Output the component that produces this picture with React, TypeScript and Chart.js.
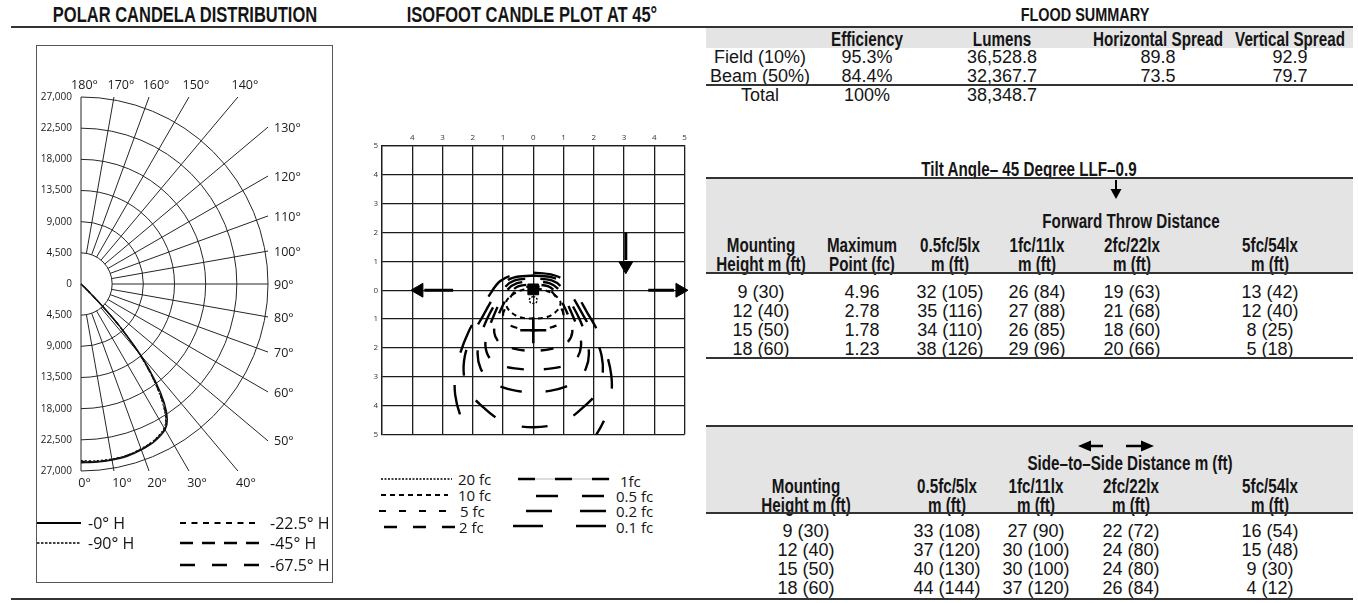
import React, { useEffect, useRef } from 'react';
import { Chart, registerables } from 'chart.js';

Chart.register(...registerables);

const BODY_FONT = '"Liberation Sans", Arial, Helvetica, sans-serif';
const LABEL_FONT = '"Open Sans", "Noto Sans", sans-serif';

// ---------------- Polar candela distribution data ----------------
const polarAngles = [0, 5, 10, 15, 20, 25, 30, 32.5, 35, 37.5, 40, 42.5, 44, 45, 47, 50, 60, 90];
const candela0H = [25800, 25800, 25800, 25750, 25500, 25100, 24300, 23200, 21000, 17600, 13400, 8200, 4600, 2200, 600, 150, 0, 0];
const candela225H = [25600, 25700, 25700, 25650, 25400, 25000, 24100, 22900, 20500, 17000, 13100, 8000, 4400, 2000, 500, 120, 0, 0];
const candela45H = [25700, 25750, 25700, 25600, 25350, 24950, 24150, 22800, 20300, 16900, 12900, 7900, 4300, 1900, 500, 120, 0, 0];
const candela675H = [25750, 25750, 25750, 25650, 25450, 25050, 24200, 23000, 20700, 17300, 13200, 8100, 4500, 2100, 550, 130, 0, 0];
const candela90H = [25500, 25600, 25650, 25600, 25300, 24900, 24000, 22700, 20200, 16800, 12800, 7800, 4400, 2000, 500, 120, 0, 0];
const polarSeriesNames = ['-0° H', '-22.5° H', '-45° H', '-67.5° H', '-90° H'];
const polarSeriesValues = [candela0H, candela225H, candela45H, candela675H, candela90H];
const polarRingValues = [4500, 9000, 13500, 18000, 22500, 27000];
const polarRingLabels = ['4,500', '9,000', '13,500', '18,000', '22,500', '27,000'];
const polarAngleTicks = [0, 10, 20, 30, 40, 50, 60, 70, 80, 90, 100, 110, 120, 130, 140, 150, 160, 170, 180];

// polar styles
const polarDashes = [[], [4, 3], [7, 4], [10, 5], [2, 2]];
const polarWidths = [1.4, 1.1, 1.1, 1.1, 1.1];

// ---------------- Isofootcandle plot data ----------------
const isoColLabels = ['', '4', '3', '2', '1', '0', '1', '2', '3', '4', '5'];
const isoRowLabels = ['5', '4', '3', '2', '1', '0', '1', '2', '3', '4', '5'];
const isoLevels = ['20 fc', '10 fc', '5 fc', '2 fc', '1fc', '0.5 fc', '0.2 fc', '0.1 fc'];

const iso20X = [0, -0.09, -0.13, -0.09, 0, 0.09, 0.13, 0.09, 0];
const iso20Y = [-0.22, -0.25, -0.34, -0.43, -0.46, -0.43, -0.34, -0.25, -0.22];
const iso10X = [0, -0.39, -0.71, -0.9, -0.81, -0.48, 0, 0.48, 0.81, 0.9, 0.71, 0.39, 0];
const iso10Y = [0.07, 0, -0.17, -0.41, -0.68, -0.92, -0.98, -0.92, -0.68, -0.41, -0.17, 0, 0.07];
const iso5X = [0, -0.45, -0.71, -0.87, -1.0, -0.87, -0.48, 0, 0.48, 0.87, 1.0, 0.87, 0.71, 0.45, 0];
const iso5Y = [0.14, 0.07, -0.17, -0.51, -0.85, -1.15, -1.32, -1.39, -1.32, -1.15, -0.85, -0.51, -0.17, 0.07, 0.14];
const iso2X = [0, -0.48, -0.77, -1.0, -1.19, -1.29, -1.1, -0.61, 0, 0.61, 1.1, 1.29, 1.19, 1.0, 0.77, 0.48, 0];
const iso2Y = [0.2, 0.14, -0.1, -0.51, -0.98, -1.46, -1.83, -2.03, -2.1, -2.03, -1.83, -1.46, -0.98, -0.51, -0.1, 0.14, 0.2];
const iso1X = [0, -0.55, -0.84, -1.1, -1.32, -1.52, -1.58, -1.45, -1.13, -0.61, 0, 0.61, 1.13, 1.45, 1.58, 1.52, 1.32, 1.1, 0.84, 0.55, 0];
const iso1Y = [0.31, 0.24, 0.03, -0.41, -0.92, -1.46, -1.93, -2.34, -2.58, -2.71, -2.75, -2.71, -2.58, -2.34, -1.93, -1.46, -0.92, -0.41, 0.03, 0.24, 0.31];
const iso05X = [0, -0.61, -0.94, -1.23, -1.52, -1.74, -1.84, -1.74, -1.45, -1.03, -0.55, 0, 0.55, 1.03, 1.45, 1.74, 1.84, 1.74, 1.52, 1.23, 0.94, 0.61, 0];
const iso05Y = [0.41, 0.34, 0.1, -0.41, -0.98, -1.59, -2.2, -2.71, -3.12, -3.36, -3.49, -3.53, -3.49, -3.36, -3.12, -2.71, -2.2, -1.59, -0.98, -0.41, 0.1, 0.34, 0.41];
const iso02X = [0, -0.65, -1.03, -1.35, -1.68, -2.03, -2.26, -2.29, -2.1, -1.68, -1.19, -0.61, 0, 0.61, 1.19, 1.68, 2.1, 2.29, 2.26, 2.03, 1.68, 1.35, 1.03, 0.65, 0];
const iso02Y = [0.51, 0.44, 0.2, -0.31, -0.92, -1.59, -2.27, -2.95, -3.56, -4.03, -4.44, -4.68, -4.75, -4.68, -4.44, -4.03, -3.56, -2.95, -2.27, -1.59, -0.92, -0.31, 0.2, 0.44, 0.51];
const iso01X = [0, -0.61, -1.1, -1.45, -1.77, -2.13, -2.42, -2.58, -2.58, -2.42, -2.1, -1.68, 0, 1.68, 2.1, 2.42, 2.58, 2.58, 2.42, 2.13, 1.77, 1.45, 1.1, 0.61, 0];
const iso01Y = [0.61, 0.54, 0.31, -0.17, -0.75, -1.42, -2.2, -2.95, -3.63, -4.31, -4.98, -5.59, -6.17, -5.59, -4.98, -4.31, -3.63, -2.95, -2.2, -1.42, -0.75, -0.17, 0.31, 0.54, 0.61];
const isoContourX = [iso20X, iso10X, iso5X, iso2X, iso1X, iso05X, iso02X, iso01X];
const isoContourY = [iso20Y, iso10Y, iso5Y, iso2Y, iso1Y, iso05Y, iso02Y, iso01Y];

// markers & arrows on the isofootcandle grid
const isoFixtureX = [0];
const isoFixtureY = [0.03];
const isoMaxPointX = [0];
const isoMaxPointY = [-1.39];
const isoArrowLeftX = [-2.65, -3.6];
const isoArrowLeftY = [0, 0];
const isoArrowRightX = [3.8, 4.65];
const isoArrowRightY = [0, 0];
const isoArrowDownX = [3.06, 3.06];
const isoArrowDownY = [2.0, 1.05];
const isoArrowHeadX = [-3.78, 4.85, 3.06];
const isoArrowHeadY = [0, 0, 0.85];
const isoArrowHeadRot = [-90, 90, 180];

// iso styles
const isoDashes = [[2, 1.5], [5, 4], [7, 13], [13, 16], [17, 20], [22, 24], [26, 28], [30, 33]];
const isoDashOffsets = [0, 0, 0, 22, 26, 38, 0, 39];
const isoWidths = [1.4, 2, 2.2, 2.4, 2.4, 2.4, 2.4, 2.4];

// ---------------- Tables ----------------
const floodRowNames = ['Field (10%)', 'Beam (50%)', 'Total'];
const floodEfficiency = ['95.3%', '84.4%', '100%'];
const floodLumens = ['36,528.8', '32,367.7', '38,348.7'];
const floodHorizontal = ['89.8', '73.5', ''];
const floodVertical = ['92.9', '79.7', ''];
const floodHeaders = ['', 'Efficiency', 'Lumens', 'Horizontal Spread', 'Vertical Spread'];

const mountingHeights = ['9 (30)', '12 (40)', '15 (50)', '18 (60)'];
const maxPointFc = ['4.96', '2.78', '1.78', '1.23'];
const forward05 = ['32 (105)', '35 (116)', '34 (110)', '38 (126)'];
const forward1 = ['26 (84)', '27 (88)', '26 (85)', '29 (96)'];
const forward2 = ['19 (63)', '21 (68)', '18 (60)', '20 (66)'];
const forward5 = ['13 (42)', '12 (40)', '8 (25)', '5 (18)'];
const forwardHead1 = ['Mounting', 'Maximum', '0.5fc/5lx', '1fc/11lx', '2fc/22lx', '5fc/54lx'];
const forwardHead2 = ['Height m (ft)', 'Point (fc)', 'm (ft)', 'm (ft)', 'm (ft)', 'm (ft)'];

const side05 = ['33 (108)', '37 (120)', '40 (130)', '44 (144)'];
const side1 = ['27 (90)', '30 (100)', '30 (100)', '37 (120)'];
const side2 = ['22 (72)', '24 (80)', '24 (80)', '26 (84)'];
const side5 = ['16 (54)', '15 (48)', '9 (30)', '4 (12)'];
const sideHead1 = ['Mounting', '0.5fc/5lx', '1fc/11lx', '2fc/22lx', '5fc/54lx'];
const sideHead2 = ['Height m (ft)', 'm (ft)', 'm (ft)', 'm (ft)', 'm (ft)'];

// ---------------- layout constants ----------------
const POLAR_LEFT = 36, POLAR_TOP = 45, POLAR_W = 297, POLAR_H = 538;
const POLAR_CX = 45, POLAR_CY = 239;
const PX_PER_CD = 187 / 27000;

const ISO_LEFT = 360, ISO_TOP = 120, ISO_W = 340, ISO_H = 330;

type TxtProps = { x: number; y: number; children: any; size?: number; bold?: boolean; cond?: number; align?: 'left' | 'center' | 'right'; family?: string; color?: string };
function Txt({ x, y, children, size = 18, bold = false, cond = 1, align = 'center', family = BODY_FONT, color = '#151515' }: TxtProps) {
  const tx = align === 'center' ? '-50%' : align === 'right' ? '-100%' : '0';
  const origin = align === 'center' ? '50% 50%' : align === 'right' ? '100% 50%' : '0 50%';
  return (
    <div style={{ position: 'absolute', left: x, top: y, transform: `translate(${tx}, -50%) scaleX(${cond})`, transformOrigin: origin, whiteSpace: 'nowrap', fontFamily: family, fontSize: size, fontWeight: bold ? 700 : 400, lineHeight: 1, color }}>
      {children}
    </div>
  );
}

function Rule({ x1, x2, y, w = 2, color = '#333' }: { x1: number; x2: number; y: number; w?: number; color?: string }) {
  return <div style={{ position: 'absolute', left: x1, top: y - w / 2, width: x2 - x1, height: w, background: color }} />;
}

function Band({ x1, x2, y1, y2 }: { x1: number; x2: number; y1: number; y2: number }) {
  return <div style={{ position: 'absolute', left: x1, top: y1, width: x2 - x1, height: y2 - y1, background: '#e4e4e4' }} />;
}

const polarGridPlugin = {
  id: 'polarGrid',
  beforeDatasetsDraw(chart: any) {
    const { ctx, scales } = chart;
    const xs = scales.x, ys = scales.y;
    const cx = xs.getPixelForValue(0);
    const cy = ys.getPixelForValue(0);
    const rOf = (v: number) => xs.getPixelForValue(v) - cx;
    const rMax = rOf(polarRingValues[polarRingValues.length - 1]);
    const rMin = rOf(polarRingValues[0]);
    ctx.save();
    ctx.strokeStyle = '#262626';
    ctx.lineWidth = 1;
    polarRingValues.forEach((v) => {
      ctx.beginPath();
      ctx.arc(cx, cy, rOf(v), -Math.PI / 2, Math.PI / 2);
      ctx.stroke();
    });
    ctx.beginPath();
    ctx.moveTo(cx, cy - rMax);
    ctx.lineTo(cx, cy + rMax);
    ctx.stroke();
    ctx.fillStyle = '#1a1a1a';
    ctx.font = `12.5px ${LABEL_FONT}`;
    ctx.textBaseline = 'middle';
    polarAngleTicks.forEach((a) => {
      const rad = (a * Math.PI) / 180;
      const s = Math.sin(rad), c = Math.cos(rad);
      const t = rMax / Math.max(Math.abs(s), Math.abs(c));
      const ex = cx + t * s, ey = cy + t * c;
      if (a > 0 && a < 180) {
        ctx.beginPath();
        ctx.moveTo(cx + rMin * s, cy + rMin * c);
        ctx.lineTo(ex, ey);
        ctx.stroke();
      }
      const label = `${a}°`;
      if (a < 45) {
        ctx.textAlign = 'center';
        ctx.fillText(label, ex + (a === 0 ? 3.5 : 8), ey + 12);
      } else if (a > 135) {
        ctx.textAlign = 'center';
        ctx.fillText(label, ex + (a === 180 ? 3.5 : 7), ey - 12);
      } else {
        ctx.textAlign = 'left';
        ctx.fillText(label, ex + 6, ey + 1);
      }
    });
    ctx.font = `10px ${LABEL_FONT}`;
    ctx.textAlign = 'right';
    ctx.fillText('0', cx - 9, cy);
    polarRingValues.forEach((v, i) => {
      const r = rOf(v);
      ctx.fillText(polarRingLabels[i], cx - 9, cy - r);
      ctx.fillText(polarRingLabels[i], cx - 9, cy + r);
    });
    ctx.restore();
  },
};

function PolarChart() {
  const ref = useRef<HTMLCanvasElement>(null);
  useEffect(() => {
    const canvas = ref.current as HTMLCanvasElement;
    const toXY = (vals: number[]) =>
      polarAngles.map((a, i) => {
        const r = (a * Math.PI) / 180;
        return { x: vals[i] * Math.sin(r), y: -vals[i] * Math.cos(r) };
      });
    const chart = new Chart(canvas, {
      type: 'scatter',
      data: {
        datasets: polarSeriesValues.map((vals, i) => ({
          label: polarSeriesNames[i],
          data: toXY(vals),
          showLine: true,
          pointRadius: 0,
          borderColor: '#111',
          borderWidth: polarWidths[i],
          borderDash: polarDashes[i],
          tension: 0.3,
          fill: false,
        })),
      },
      options: {
        animation: false,
        responsive: false,
        events: [],
        layout: { padding: 0 },
        plugins: { legend: { display: false }, tooltip: { enabled: false } },
        scales: {
          x: { type: 'linear', display: false, min: -POLAR_CX / PX_PER_CD, max: (POLAR_W - POLAR_CX) / PX_PER_CD },
          y: { type: 'linear', display: false, min: -(POLAR_H - POLAR_CY) / PX_PER_CD, max: POLAR_CY / PX_PER_CD },
        },
      } as any,
      plugins: [polarGridPlugin],
    });
    return () => chart.destroy();
  }, []);
  return <canvas ref={ref} width={POLAR_W} height={POLAR_H} style={{ position: 'absolute', left: POLAR_LEFT, top: POLAR_TOP, width: POLAR_W, height: POLAR_H }} />;
}

function IsoChart() {
  const ref = useRef<HTMLCanvasElement>(null);
  useEffect(() => {
    const canvas = ref.current as HTMLCanvasElement;
    const pts = (xs: number[], ys: number[]) => xs.map((x, i) => ({ x, y: ys[i] }));
    const contourSets = isoContourX.map((xs, i) => ({
      label: isoLevels[i],
      data: pts(xs, isoContourY[i]),
      showLine: true,
      pointRadius: 0,
      borderColor: '#000',
      borderWidth: isoWidths[i],
      borderDash: isoDashes[i],
      borderDashOffset: isoDashOffsets[i],
      borderCapStyle: 'butt',
      tension: 0.35,
      fill: false,
    }));
    const shaft = (xs: number[], ys: number[]) => ({
      data: pts(xs, ys),
      showLine: true,
      pointRadius: 0,
      borderColor: '#000',
      borderWidth: 3,
      clip: false,
    });
    const chart = new Chart(canvas, {
      type: 'scatter',
      data: {
        datasets: [
          ...contourSets,
          {
            data: pts(isoFixtureX, isoFixtureY),
            pointStyle: 'rect',
            pointRadius: 7.6,
            pointBackgroundColor: '#000',
            pointBorderColor: '#000',
            pointBorderWidth: 1,
          },
          {
            data: pts(isoMaxPointX, isoMaxPointY),
            pointStyle: 'cross',
            pointRadius: 13,
            pointBorderColor: '#000',
            pointBorderWidth: 2.5,
          },
          shaft(isoArrowLeftX, isoArrowLeftY),
          shaft(isoArrowRightX, isoArrowRightY),
          shaft(isoArrowDownX, isoArrowDownY),
          {
            data: pts(isoArrowHeadX, isoArrowHeadY),
            pointStyle: 'triangle',
            pointRadius: 8,
            pointRotation: (c: any) => isoArrowHeadRot[c.dataIndex],
            pointBackgroundColor: '#000',
            pointBorderColor: '#000',
            pointBorderWidth: 1,
            clip: false,
          },
        ],
      },
      options: {
        animation: false,
        responsive: false,
        events: [],
        layout: { padding: { left: 0, top: 0, right: 8, bottom: 9 } },
        plugins: { legend: { display: false }, tooltip: { enabled: false } },
        scales: {
          x: {
            type: 'linear',
            position: 'top',
            min: -5,
            max: 5,
            afterFit: (s: any) => { s.height = 26; },
            ticks: {
              stepSize: 1,
              autoSkip: false,
              maxRotation: 0,
              padding: 3,
              color: '#333',
              font: { size: 8, family: LABEL_FONT },
              callback: (v: any) => isoColLabels[Math.round(Number(v)) + 5],
            },
            grid: { color: '#1c1c1c', lineWidth: 1.3, drawTicks: false },
            border: { color: '#1c1c1c', width: 1.3 },
          },
          y: {
            type: 'linear',
            min: -5,
            max: 5,
            afterFit: (s: any) => { s.width = 22; },
            ticks: {
              stepSize: 1,
              autoSkip: false,
              padding: 4,
              color: '#333',
              font: { size: 8, family: LABEL_FONT },
              callback: (v: any) => isoRowLabels[Math.round(Number(v)) + 5],
            },
            grid: { color: '#1c1c1c', lineWidth: 1.3, drawTicks: false },
            border: { color: '#1c1c1c', width: 1.3 },
          },
        },
      } as any,
    });
    return () => chart.destroy();
  }, []);
  return <canvas ref={ref} width={ISO_W} height={ISO_H} style={{ position: 'absolute', left: ISO_LEFT, top: ISO_TOP, width: ISO_W, height: ISO_H }} />;
}

function LegendLines() {
  return (
    <svg width={1358} height={603} style={{ position: 'absolute', left: 0, top: 0, pointerEvents: 'none' }}>
      {/* polar legend */}
      <line x1={37} y1={523} x2={81} y2={523} stroke="#000" strokeWidth={2.2} />
      <line x1={37} y1={543} x2={81} y2={543} stroke="#000" strokeWidth={1.6} strokeDasharray="2.5 1.5" />
      <line x1={180} y1={523} x2={258} y2={523} stroke="#000" strokeWidth={2} strokeDasharray="6 5.5" />
      <line x1={180} y1={543} x2={260} y2={543} stroke="#000" strokeWidth={2.5} strokeDasharray="13 9" />
      <line x1={180} y1={565} x2={260} y2={565} stroke="#000" strokeWidth={2.5} strokeDasharray="15 17" />
      {/* iso legend */}
      <line x1={381} y1={479} x2={452} y2={479} stroke="#000" strokeWidth={1.5} strokeDasharray="2 1.5" />
      <line x1={381} y1={495} x2={448} y2={495} stroke="#000" strokeWidth={2} strokeDasharray="5 4" />
      <line x1={379} y1={511} x2={450} y2={511} stroke="#000" strokeWidth={2} strokeDasharray="7 13" />
      <line x1={384} y1={527} x2={458} y2={527} stroke="#000" strokeWidth={2.4} strokeDasharray="13 16" />
      <line x1={518} y1={479} x2={610} y2={479} stroke="#aaa" strokeWidth={0.8} />
      <line x1={518} y1={479} x2={610} y2={479} stroke="#000" strokeWidth={2.4} strokeDasharray="17 20" />
      <line x1={536} y1={496} x2={606} y2={496} stroke="#000" strokeWidth={2.4} strokeDasharray="22 24" />
      <line x1={526} y1={511} x2={606} y2={511} stroke="#000" strokeWidth={2.4} strokeDasharray="26 28" />
      <line x1={513} y1={526} x2={606} y2={526} stroke="#000" strokeWidth={2.4} strokeDasharray="30 33" />
      {/* table arrows */}
      <line x1={1116} y1={180} x2={1116} y2={190} stroke="#000" strokeWidth={2} />
      <polygon points="1110.5,189 1121.5,189 1116,199" fill="#000" />
      <line x1={1089} y1={446} x2={1103} y2={446} stroke="#000" strokeWidth={2.5} />
      <polygon points="1078,446 1091,440.5 1091,451.5" fill="#000" />
      <line x1={1126} y1={446} x2={1142} y2={446} stroke="#000" strokeWidth={2.5} />
      <polygon points="1154,446 1141,440.5 1141,451.5" fill="#000" />
    </svg>
  );
}

export default function App() {
  const fCols = [760, 867, 1002, 1158, 1290];
  const fwdCols = [761, 862, 950, 1037, 1132, 1270];
  const sideCols = [806, 947, 1036, 1131, 1270];
  const fwdRows = [292, 311, 330, 349];
  const sideRows = [531, 550, 569, 588];
  const HB = { bold: true, cond: 0.76, size: 20 } as any;
  return (
    <div style={{ position: 'absolute', left: 0, top: 0, width: 1358, height: 603, background: '#fff', overflow: 'hidden' }}>
      {/* titles & rules */}
      <Txt x={185} y={15} size={22} bold cond={0.75}>POLAR CANDELA DISTRIBUTION</Txt>
      <Txt x={532} y={15} size={22} bold cond={0.75}>ISOFOOT CANDLE PLOT AT 45°</Txt>
      <Txt x={1085} y={14} size={19} bold cond={0.76}>FLOOD SUMMARY</Txt>
      <Rule x1={11} x2={1353} y={27} />
      <Rule x1={11} x2={1353} y={599} />

      {/* polar box */}
      <div style={{ position: 'absolute', left: POLAR_LEFT, top: POLAR_TOP, width: POLAR_W, height: POLAR_H, border: '1.5px solid #555', boxSizing: 'border-box' }} />
      <PolarChart />
      <Txt x={88} y={523} size={16} align="left" family={LABEL_FONT}>-0° H</Txt>
      <Txt x={88} y={543} size={16} align="left" family={LABEL_FONT}>-90° H</Txt>
      <Txt x={270} y={523} size={16} align="left" family={LABEL_FONT}>-22.5° H</Txt>
      <Txt x={270} y={543} size={16} align="left" family={LABEL_FONT}>-45° H</Txt>
      <Txt x={270} y={565} size={16} align="left" family={LABEL_FONT}>-67.5° H</Txt>

      {/* isofootcandle */}
      <IsoChart />
      <Txt x={458} y={479} size={15} align="left" family={LABEL_FONT}>{isoLevels[0]}</Txt>
      <Txt x={458} y={495} size={15} align="left" family={LABEL_FONT}>{isoLevels[1]}</Txt>
      <Txt x={460} y={511} size={15} align="left" family={LABEL_FONT}>{isoLevels[2]}</Txt>
      <Txt x={459} y={527} size={15} align="left" family={LABEL_FONT}>{isoLevels[3]}</Txt>
      <Txt x={620} y={481} size={15} align="left" family={LABEL_FONT}>{isoLevels[4]}</Txt>
      <Txt x={616} y={496} size={15} align="left" family={LABEL_FONT}>{isoLevels[5]}</Txt>
      <Txt x={616} y={511} size={15} align="left" family={LABEL_FONT}>{isoLevels[6]}</Txt>
      <Txt x={616} y={527} size={15} align="left" family={LABEL_FONT}>{isoLevels[7]}</Txt>

      {/* flood summary table */}
      <Band x1={706} x2={1353} y1={28} y2={48} />
      {floodHeaders.map((h, i) => (h ? <Txt key={'fh' + i} x={fCols[i]} y={39} {...HB}>{h}</Txt> : null))}
      {floodRowNames.map((n, r) => {
        const y = [57, 76, 95][r];
        return (
          <React.Fragment key={'fr' + r}>
            <Txt x={fCols[0]} y={y}>{n}</Txt>
            <Txt x={fCols[1]} y={y}>{floodEfficiency[r]}</Txt>
            <Txt x={fCols[2]} y={y}>{floodLumens[r]}</Txt>
            <Txt x={fCols[3]} y={y}>{floodHorizontal[r]}</Txt>
            <Txt x={fCols[4]} y={y}>{floodVertical[r]}</Txt>
          </React.Fragment>
        );
      })}
      <Rule x1={706} x2={1353} y={85} />

      {/* forward throw table */}
      <Txt x={1029} y={169} {...HB}>Tilt Angle– 45 Degree LLF–0.9</Txt>
      <Band x1={706} x2={1353} y1={178} y2={273} />
      <Rule x1={706} x2={1353} y={178} />
      <Txt x={1131} y={221} {...HB}>Forward Throw Distance</Txt>
      {forwardHead1.map((h, i) => <Txt key={'a' + i} x={fwdCols[i]} y={245} {...HB}>{h}</Txt>)}
      {forwardHead2.map((h, i) => <Txt key={'b' + i} x={fwdCols[i]} y={264} {...HB}>{h}</Txt>)}
      <Rule x1={706} x2={1353} y={273} />
      {mountingHeights.map((m, r) => (
        <React.Fragment key={'fw' + r}>
          <Txt x={fwdCols[0]} y={fwdRows[r]}>{m}</Txt>
          <Txt x={fwdCols[1]} y={fwdRows[r]}>{maxPointFc[r]}</Txt>
          <Txt x={fwdCols[2]} y={fwdRows[r]}>{forward05[r]}</Txt>
          <Txt x={fwdCols[3]} y={fwdRows[r]}>{forward1[r]}</Txt>
          <Txt x={fwdCols[4]} y={fwdRows[r]}>{forward2[r]}</Txt>
          <Txt x={fwdCols[5]} y={fwdRows[r]}>{forward5[r]}</Txt>
        </React.Fragment>
      ))}
      <Rule x1={706} x2={1353} y={358} />

      {/* side to side table */}
      <Band x1={706} x2={1353} y1={426} y2={513} />
      <Rule x1={706} x2={1353} y={426} />
      <Txt x={1130} y={463} {...HB}>Side–to–Side Distance m (ft)</Txt>
      {sideHead1.map((h, i) => <Txt key={'c' + i} x={sideCols[i]} y={486} {...HB}>{h}</Txt>)}
      {sideHead2.map((h, i) => <Txt key={'d' + i} x={sideCols[i]} y={505} {...HB}>{h}</Txt>)}
      <Rule x1={706} x2={1353} y={513} />
      {mountingHeights.map((m, r) => (
        <React.Fragment key={'sd' + r}>
          <Txt x={sideCols[0]} y={sideRows[r]}>{m}</Txt>
          <Txt x={sideCols[1]} y={sideRows[r]}>{side05[r]}</Txt>
          <Txt x={sideCols[2]} y={sideRows[r]}>{side1[r]}</Txt>
          <Txt x={sideCols[3]} y={sideRows[r]}>{side2[r]}</Txt>
          <Txt x={sideCols[4]} y={sideRows[r]}>{side5[r]}</Txt>
        </React.Fragment>
      ))}

      <LegendLines />
    </div>
  );
}
